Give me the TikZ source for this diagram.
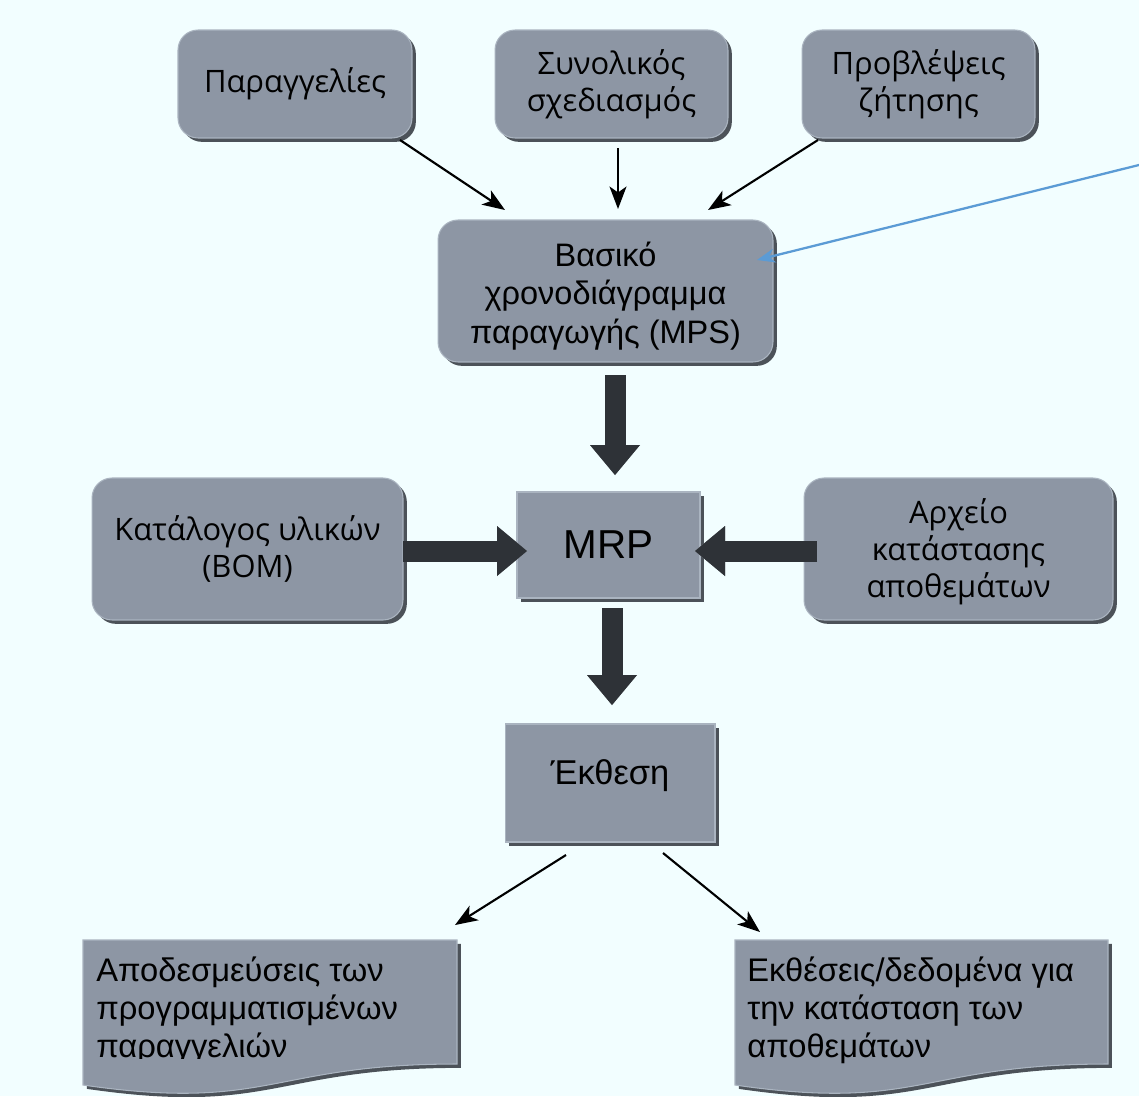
\documentclass[tikz,border=0pt]{standalone}
\usepackage{fontspec}
\setmainfont{Liberation Sans}
\newfontfamily\hum{Open Sans}
\usetikzlibrary{arrows.meta,shadows,calc}

\definecolor{bg}{HTML}{F2FEFF}
\definecolor{boxfill}{HTML}{8D96A4}
\definecolor{boxedge}{HTML}{AAB4C0}
\definecolor{boxshade}{HTML}{4C5259}
\definecolor{blockarrow}{HTML}{2E3237}
\definecolor{pointer}{HTML}{5B9BD5}

\begin{document}
\begin{tikzpicture}[x=0.02cm,y=-0.02cm,
  box/.style={fill=boxfill, draw=boxedge, line width=0.6pt, align=center, inner sep=0pt,
    drop shadow={shadow xshift=2.2pt, shadow yshift=-2.2pt, fill=boxshade, opacity=1}},
  rbox/.style={box, rounded corners=0.4cm},
  humtext/.style={font=\hum\fontsize{17.6}{21}\selectfont},
  arialtext/.style={font=\fontsize{18.5}{22}\selectfont, align=center},
  doctext/.style={font=\fontsize{18.6}{21.6}\selectfont, align=left, anchor=north west, inner sep=0pt},
  thinarrow/.style={draw=black, line width=1.2pt, -{Stealth[length=0.45cm, width=0.34cm, inset=0.12cm]}},
  blk/.style={draw=blockarrow, line width=0.42cm,
    -{Triangle[length=0.6cm, width=1cm, line width=0pt]}},
  blkshadow/.style={blk, draw=boxshade!70, xshift=1.6pt, yshift=-1.6pt},
  docshape/.style={fill=boxfill, draw=boxedge, line width=0.6pt,
    drop shadow={shadow xshift=2.2pt, shadow yshift=-2.2pt, fill=boxshade, opacity=1}}
]
\useasboundingbox (0,0) rectangle (1139,1096);
\fill[bg] (0,0) rectangle (1139,1096);

% inputs to the master schedule
\node[rbox, humtext, minimum width=4.68cm, minimum height=2.16cm] (ord) at (295,84) {Παραγγελίες};
\node[rbox, humtext, minimum width=4.66cm, minimum height=2.16cm] (agg) at (611.5,84) {Συνολικός\\σχεδιασμός};
\node[rbox, humtext, minimum width=4.66cm, minimum height=2.16cm] (fc) at (918.5,84) {Προβλέψεις\\ζήτησης};

% master production schedule
\node[rbox, minimum width=6.7cm, minimum height=2.84cm,
  label={[arialtext, yshift=-0.1cm]center:{Βασικό\\χρονοδιάγραμμα\\παραγωγής (MPS)}}] (mps) at (605.5,291) {};

% MRP row
\node[rbox, humtext, minimum width=6.22cm, minimum height=2.84cm] (bom) at (247.5,549) {Κατάλογος υλικών\\(BOM)};
\node[box, font=\fontsize{23}{27}\selectfont, minimum width=3.66cm, minimum height=2.12cm] (mrp) at (608.5,545) {MRP};
\node[rbox, humtext, minimum width=6.18cm, minimum height=2.84cm,
  label={[humtext, align=center, yshift=-0.06cm]center:{Αρχείο\\κατάστασης\\αποθεμάτων}}] (inv) at (958.5,549) {};

% report
\node[box, minimum width=4.2cm, minimum height=2.36cm,
  label={[font=\fontsize{19.6}{23}\selectfont, yshift=0.14cm]center:Έκθεση}] (rep) at (610,783) {};

% output documents (wavy bottom edge)
\path[docshape] (83,940) -- (457,940) -- (457,1064)
  .. controls (270,1064) and (270,1112) .. (83,1085) -- cycle;
\path[docshape] (735,940) -- (1108,940) -- (1108,1064)
  .. controls (921,1064) and (921,1112) .. (735,1085) -- cycle;
\begin{scope}
  \clip (80,930) rectangle (460,1058);
  \node[doctext] (rel) at (96,957) {Αποδεσμεύσεις των\\προγραμματισμένων\\παραγγελιών};
\end{scope}
\node[doctext] (stat) at (747,957) {Εκθέσεις/δεδομένα για\\την κατάσταση των\\αποθεμάτων};

% thin connectors
\coordinate (o1) at (400,140);  \coordinate (o2) at (505,210);
\coordinate (g1) at (618,148);  \coordinate (g2) at (618,209);
\coordinate (f1) at (818,140);  \coordinate (f2) at (708,210);
\coordinate (p1) at (1139,165); \coordinate (p2) at (757,260);
\coordinate (r1) at (566,855);  \coordinate (r2) at (455,925);
\coordinate (s1) at (663,853);  \coordinate (s2) at (760,932);
\draw[thinarrow] (o1) -- (o2);
\draw[thinarrow] (g1) -- (g2);
\draw[thinarrow] (f1) -- (f2);
\draw[draw=pointer, line width=1.3pt, -{Stealth[length=0.36cm, width=0.28cm]}] (p1) -- (p2);
\draw[thinarrow] (r1) -- (r2);
\draw[thinarrow] (s1) -- (s2);

% block arrows
\coordinate (a1) at (615,375); \coordinate (a2) at (615,475);
\coordinate (b1) at (403,551); \coordinate (b2) at (527,551);
\coordinate (c1) at (817,551); \coordinate (c2) at (695,551);
\coordinate (d1) at (612,608); \coordinate (d2) at (612,705);
\foreach \u/\v in {a1/a2, b1/b2, c1/c2, d1/d2}{
  \draw[blkshadow] (\u) -- (\v);
  \draw[blk] (\u) -- (\v);
}
\end{tikzpicture}
\end{document}
